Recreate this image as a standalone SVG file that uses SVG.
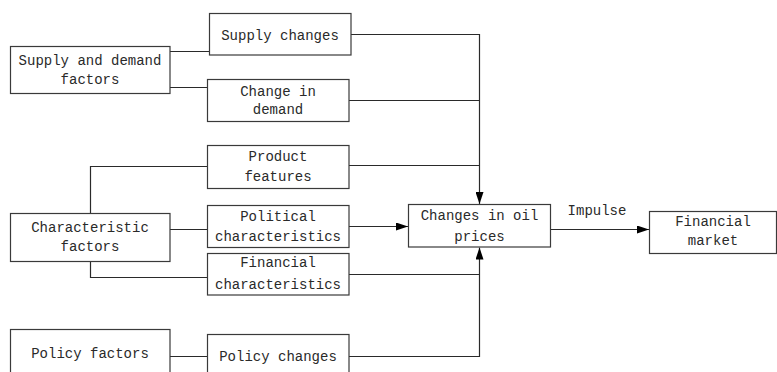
<svg xmlns="http://www.w3.org/2000/svg" width="777" height="372" viewBox="0 0 777 372">
<defs>
<marker id="ah" markerWidth="12" markerHeight="8" refX="12" refY="4" orient="auto" markerUnits="userSpaceOnUse">
<path d="M0,0 L12,4 L0,8 Z" fill="#000"/>
</marker>
<style>
rect{fill:#fff;stroke:#3a3a3a;stroke-width:1.2}
text{font-family:"Liberation Mono","DejaVu Sans Mono",monospace;font-size:14px;fill:#2a2a2a;text-anchor:middle}
.c{fill:none;stroke:#2a2a2a;stroke-width:1.2}
</style>
</defs>
<rect x="0" y="0" width="777" height="372" style="fill:#fff;stroke:none"/>
<g id="connectors">
<path class="c" d="M170,51.5 H209.5"/>
<path class="c" d="M170,87.5 H207.5"/>
<path class="c" d="M90.5,213.5 V166.5 H207.5"/>
<path class="c" d="M170,229.5 H207.5"/>
<path class="c" d="M90.5,261.5 V277.5 H207.5"/>
<path class="c" d="M170,356.5 H207.5"/>
<path class="c" d="M351,34.5 H479.5 V204" marker-end="url(#ah)"/>
<path class="c" d="M349,100.5 H479.5"/>
<path class="c" d="M349,165.5 H479.5"/>
<path class="c" d="M349,226.5 H408" marker-end="url(#ah)"/>
<path class="c" d="M349,274.5 H479.5"/>
<path class="c" d="M349,356.5 H479.5 V247.5" marker-end="url(#ah)"/>
<path class="c" d="M550.5,229.5 H649" marker-end="url(#ah)"/>
<text x="597" y="215">Impulse</text>
</g>
<g id="supply-changes"><rect x="209.5" y="13.5" width="141.5" height="41.5"/><text x="280" y="40">Supply changes</text></g>
<g id="supply-demand-factors"><rect x="10.5" y="46.5" width="159.5" height="47"/><text x="90" y="65">Supply and demand</text><text x="90" y="84">factors</text></g>
<g id="change-in-demand"><rect x="207.5" y="79.5" width="141.5" height="42"/><text x="278" y="96">Change in</text><text x="278" y="114">demand</text></g>
<g id="product-features"><rect x="207.5" y="145.5" width="141.5" height="43"/><text x="278" y="161">Product</text><text x="278" y="181">features</text></g>
<g id="characteristic-factors"><rect x="10.5" y="213.5" width="159.5" height="48"/><text x="90" y="232">Characteristic</text><text x="90" y="251">factors</text></g>
<g id="political-characteristics"><rect x="207.5" y="205.5" width="141.5" height="42"/><text x="278" y="221">Political</text><text x="278" y="241">characteristics</text></g>
<g id="financial-characteristics"><rect x="207.5" y="253.5" width="141.5" height="41.5"/><text x="278" y="267">Financial</text><text x="278" y="289">characteristics</text></g>
<g id="policy-factors"><rect x="10.5" y="329.5" width="159.5" height="50"/><text x="90" y="358">Policy factors</text></g>
<g id="policy-changes"><rect x="207.5" y="334.5" width="141.5" height="50"/><text x="278" y="361">Policy changes</text></g>
<g id="oil-prices"><rect x="408.5" y="204.5" width="142" height="42.5"/><text x="479.5" y="220">Changes in oil</text><text x="479.5" y="241">prices</text></g>
<g id="financial-market"><rect x="649.5" y="211.5" width="127" height="42"/><text x="713" y="226">Financial</text><text x="713" y="245">market</text></g>
</svg>
